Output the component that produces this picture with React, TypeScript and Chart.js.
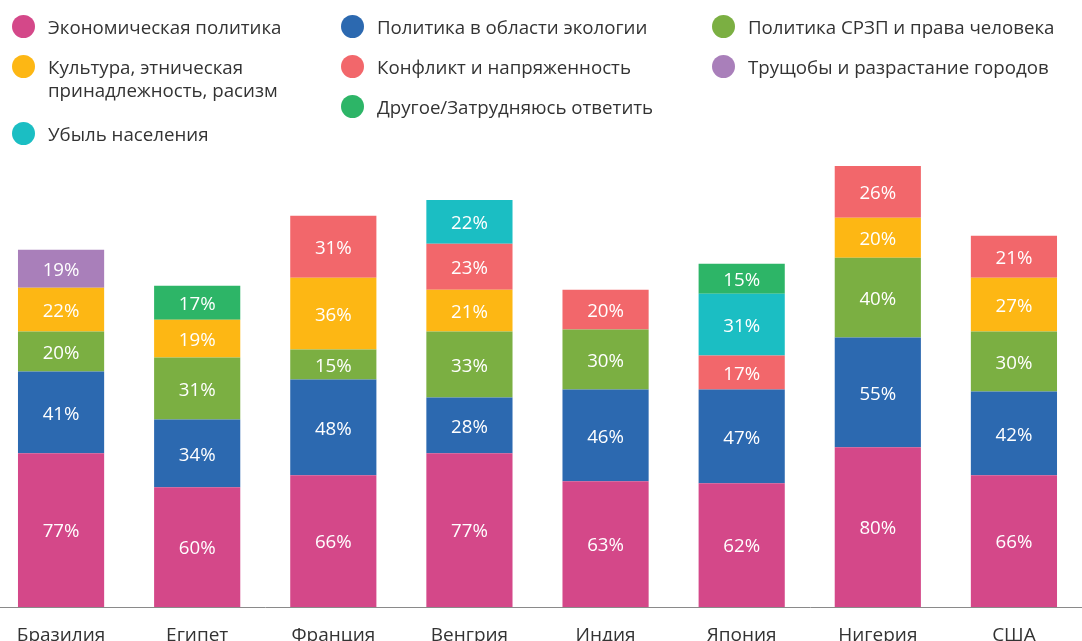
import React, { useEffect, useRef } from "react";
import { Chart, registerables } from "chart.js";

Chart.register(...registerables);

const categories = ["Бразилия", "Египет", "Франция", "Венгрия", "Индия", "Япония", "Нигерия", "США"];

// stack order from bottom
const econ = [77, 60, 66, 77, 63, 62, 80, 66];
const ecology = [41, 34, 48, 28, 46, 47, 55, 42];
const srzp = [20, 31, 15, 33, 30, null, 40, 30];
const culture = [22, 19, 36, 21, null, null, 20, 27];
const conflict = [null, null, 31, 23, 20, 17, 26, 21];
const slums = [19, null, null, null, null, null, null, null];
const depopulation = [null, null, null, 22, null, 31, null, null];
const other = [null, 17, null, null, null, 15, null, null];

const seriesNames = {
  econ: "Экономическая политика",
  ecology: "Политика в области экологии",
  srzp: "Политика СРЗП и права человека",
  culture: "Культура, этническая\nпринадлежность, расизм",
  conflict: "Конфликт и напряженность",
  slums: "Трущобы и разрастание городов",
  other: "Другое/Затрудняюсь ответить",
  depopulation: "Убыль населения",
};

const colors = {
  econ: "#D44889",
  ecology: "#2C69B0",
  srzp: "#7BAF42",
  culture: "#FDB714",
  conflict: "#F2676B",
  slums: "#A97FBA",
  other: "#2DB567",
  depopulation: "#1BBEC3",
};

const FONT = "'Open Sans', 'Noto Sans', sans-serif";

const legendItems: { key: keyof typeof colors; left: number; cy: number }[] = [
  { key: "econ", left: 12, cy: 26 },
  { key: "culture", left: 12, cy: 66 },
  { key: "depopulation", left: 12, cy: 133 },
  { key: "ecology", left: 341, cy: 26 },
  { key: "conflict", left: 341, cy: 66 },
  { key: "other", left: 341, cy: 106 },
  { key: "srzp", left: 712, cy: 26 },
  { key: "slums", left: 712, cy: 66 },
];

const labelPlugin = {
  id: "segLabels",
  afterDatasetsDraw(chart: any) {
    const ctx = chart.ctx;
    ctx.save();
    ctx.font = `18.7px ${FONT}`;
    ctx.fillStyle = "#ffffff";
    ctx.textAlign = "center";
    ctx.textBaseline = "middle";
    chart.data.datasets.forEach((ds: any, i: number) => {
      const meta = chart.getDatasetMeta(i);
      meta.data.forEach((el: any, j: number) => {
        const v = ds.data[j];
        if (v == null) return;
        const p = el.getCenterPoint();
        ctx.fillText(v + "%", p.x, p.y + 2);
      });
    });
    ctx.restore();
  },
};

export default function App() {
  const ref = useRef<HTMLCanvasElement>(null);

  useEffect(() => {
    if (!ref.current) return;
    const mk = (key: keyof typeof colors, data: (number | null)[]) => ({
      label: seriesNames[key],
      data,
      backgroundColor: colors[key],
      borderWidth: 0,
      categoryPercentage: 0.633,
      barPercentage: 1,
    });
    const chart = new Chart(ref.current, {
      type: "bar",
      data: {
        labels: categories,
        datasets: [
          mk("econ", econ),
          mk("ecology", ecology),
          mk("srzp", srzp),
          mk("culture", culture),
          mk("conflict", conflict),
          mk("slums", slums),
          mk("depopulation", depopulation),
          mk("other", other),
        ],
      },
      options: {
        responsive: false,
        animation: false,
        layout: { padding: { top: 148, left: 0, right: 0, bottom: 0 } },
        plugins: { legend: { display: false }, tooltip: { enabled: false }, title: { display: false } },
        scales: {
          x: {
            stacked: true,
            grid: { display: false, drawTicks: false },
            border: { display: true, color: "#8a8a8a", width: 1 },
            ticks: { color: "#333333", font: { size: 19, family: FONT }, padding: 17, maxRotation: 0, autoSkip: false },
            afterFit: (scale: any) => {
              scale.height = 34;
            },
          },
          y: { stacked: true, display: false, min: 0, max: 230 },
        },
      },
      plugins: [labelPlugin],
    });
    return () => chart.destroy();
  }, []);

  return (
    <div style={{ position: "fixed", left: 0, top: 0, width: 1082, height: 641, overflow: "hidden", background: "#fff", fontFamily: FONT }}>
      <canvas ref={ref} width={1089} height={641} style={{ position: "absolute", left: -7, top: 0, width: 1089, height: 641 }} />
      {legendItems.map((it) => (
        <div
          key={it.key}
          style={{ position: "absolute", left: it.left, top: it.cy - 11.5, display: "flex", alignItems: "flex-start" }}
        >
          <span
            style={{ width: 23, height: 23, borderRadius: "50%", background: colors[it.key], flex: "0 0 23px", marginRight: 13 }}
          />
          <span style={{ fontSize: 18.7, lineHeight: "23px", color: "#333", whiteSpace: "pre-line" }}>{seriesNames[it.key]}</span>
        </div>
      ))}
    </div>
  );
}
